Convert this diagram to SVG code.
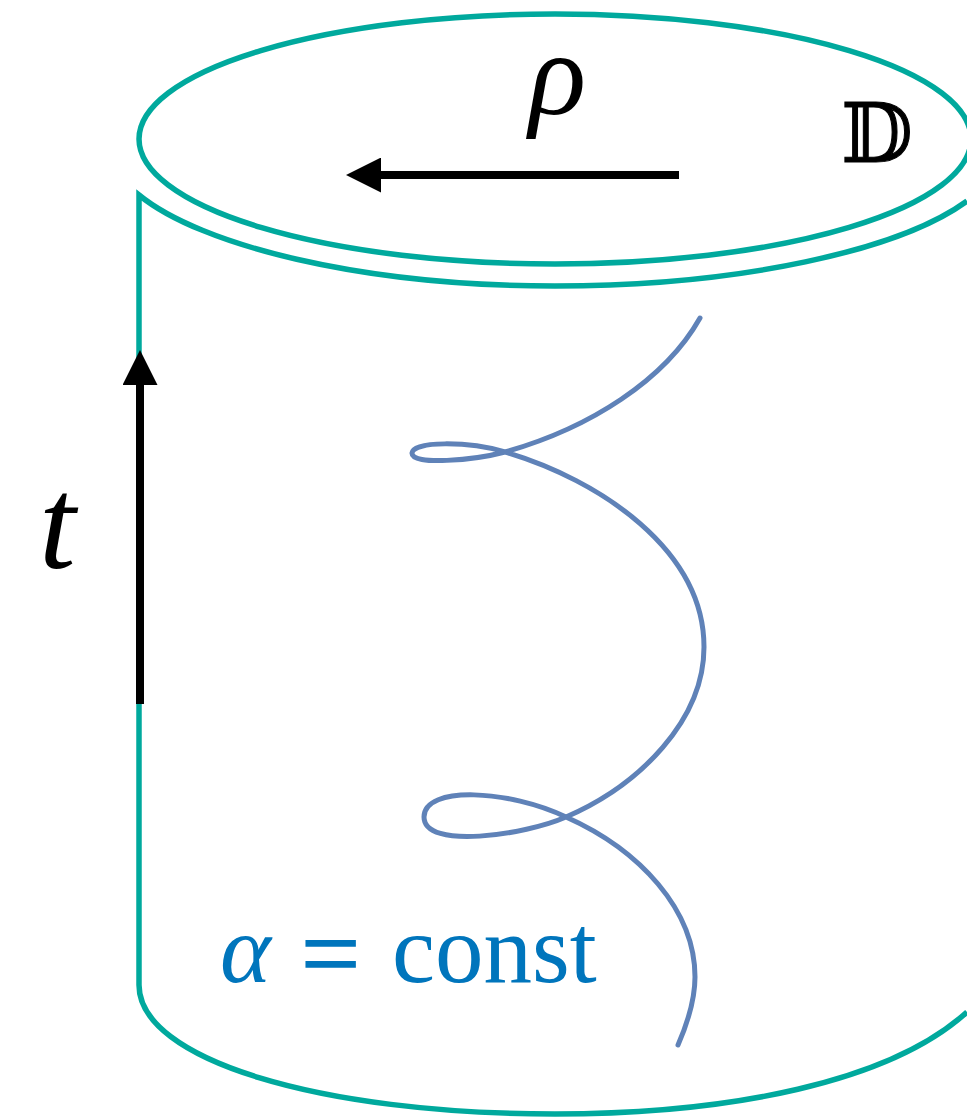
<svg xmlns="http://www.w3.org/2000/svg" width="967" height="1118" viewBox="0 0 967 1118">
<style>
.rim{fill:none;stroke:#00a99d;stroke-width:5.500}
.ax{fill:none;stroke:#000;stroke-width:8}
.curve{fill:none;stroke:#5f82b8;stroke-width:5;stroke-linecap:round;stroke-linejoin:round}
.t{font-family:"Liberation Serif","Times New Roman",serif}
.b{fill:#0075bc}
</style>
<defs>
<marker id="ah" markerUnits="userSpaceOnUse" markerWidth="35" markerHeight="35" refX="0" refY="17.5" orient="auto"><path d="M0 0L35 17.500L0 35Z" fill="#000"/></marker>
</defs>
<rect width="967" height="1118" fill="#fff"/>
<g id="cylinder">
<ellipse class="rim" cx="555" cy="139" rx="416" ry="125"/>
<path class="rim" d="M967 201C900 250 740 286 555 286C360 286 200 245 139 195V985C139 1060 320 1114 555 1114C730 1114 890 1082 967 1012"/>
</g>
<g id="connectors">
<path class="ax" d="M140 704V385" marker-end="url(#ah)"/>
<path class="ax" d="M679 175H381" marker-end="url(#ah)"/>
</g>
<g id="worldline">
<path class="curve" d="M700 318C665 380 590 428 505 452C475 460 411 466 412 453C413 441 468 441 505 452C600 480 704 550 704 647C704 720 640 785 566 817C525 835 424 850 424 817C424 785 510 790 566 817C640 850 695 910 695 977C695 1000 688 1022 678 1045"/>
</g>
<g id="label-rho"><text class="t" x="529" y="114" font-size="119" font-style="italic">ρ</text></g>
<g id="label-D"><text x="841" y="162" font-size="83" stroke="#000" stroke-width="1" font-family="'DejaVu Serif','DejaVu Sans',serif">𝔻</text></g>
<g id="label-t"><text class="t" x="39" y="568" font-size="132" font-style="italic">t</text></g>
<g id="label-alpha">
<text class="t b" x="220" y="982" font-size="97" font-style="italic">α</text>
<text class="t b" x="301" y="989" font-size="105" stroke="#0075bc" stroke-width="1.500">=</text>
<text class="t b" x="392" y="982" font-size="97">const</text>
</g>
</svg>
